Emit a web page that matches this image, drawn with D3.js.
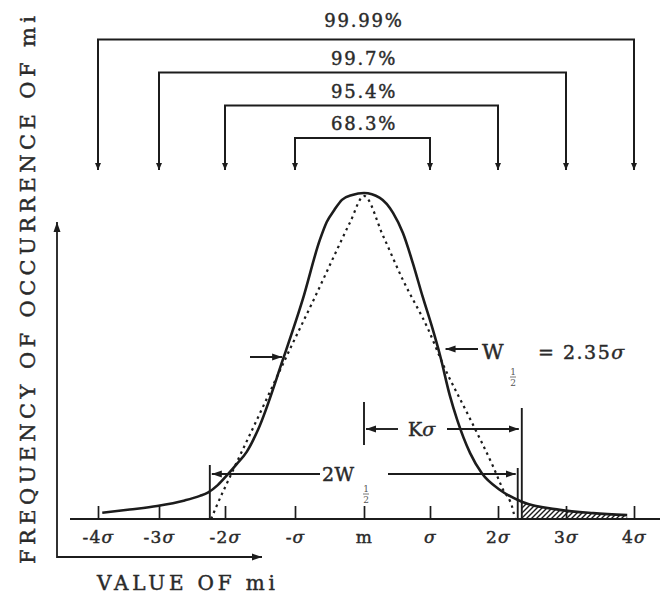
<!DOCTYPE html>
<html><head><meta charset="utf-8">
<script src="https://cdn.jsdelivr.net/npm/d3@7"></script>
<style>body{margin:0;background:#fff}svg{display:block}
text{stroke:#2a2a2a;stroke-width:0.45px;paint-order:fill}</style>
</head><body><svg id="c" width="660" height="596"></svg>
<script>
// ---- data ----
const tickValues = [-4,-3,-2,-1,0,1,2,3,4];
const tickLabels = ["-4σ","-3σ","-2σ","-σ","m","σ","2σ","3σ","4σ"];
const bracketLabels = ["99.99%","99.7%","95.4%","68.3%"];
const bracketHalfWidths = [4,3,2,1];
// solid frequency curve (x in σ, relative frequency)
const solidS = [-3.93,-3.48,-3.03,-2.61,-2.38,-2.26,-2.11,-1.98,-1.83,-1.69,-1.53,-1.17,-0.89,-0.64,-0.54,-0.43,-0.32,-0.17,0,0.24,0.44,0.59,0.74,0.89,1.03,1.15,1.29,1.40,1.59,1.76,2.03,2.35,2.91,3.40,3.90];
const solidV = [0.019,0.029,0.040,0.057,0.071,0.081,0.104,0.132,0.169,0.206,0.273,0.491,0.672,0.856,0.911,0.948,0.979,0.994,1.0,0.985,0.939,0.877,0.785,0.681,0.589,0.500,0.380,0.304,0.202,0.141,0.089,0.053,0.028,0.018,0.012];
// dotted triangle approximation
const dottedS = [-2.21,-2.14,-1.93,-1.60,-1.05,-0.71,-0.38,-0.20,0,0.29,0.59,0.97,1.19,1.59,1.93,2.07,2.22,2.25];
const dottedV = [0,0.034,0.129,0.279,0.531,0.681,0.831,0.911,0.991,0.868,0.733,0.583,0.475,0.307,0.160,0.092,0.028,0];
const halfWidthS = [-1.17, 1.17];   // W½ arrow targets (σ)
const kSigmaS = [0, 2.35];          // Kσ span (σ)
const twoWS = [-2.23, 2.29];        // 2W½ span (σ)
const tailStart = 2.35;             // hatched tail from Kσ

const FONT = "'DejaVu Serif', 'Liberation Serif', serif";
const INK = "#1c1c1c";
const TXT = "#2a2a2a";
const svg = d3.select("#c");
const x = d3.scaleLinear().domain(tickValues).range([98,159,225,295,364,430,498,566,634]);
const y = d3.scaleLinear().domain([0,1]).range([519,193]);

const defs = svg.append("defs");
defs.append("marker").attr("id","arr").attr("markerUnits","userSpaceOnUse")
  .attr("markerWidth",11).attr("markerHeight",8).attr("refX",10).attr("refY",4)
  .attr("orient","auto-start-reverse")
  .append("path").attr("d","M0,0.5 L10,4 L0,7.5 Z").attr("fill",INK);
defs.append("marker").attr("id","arrS").attr("markerUnits","userSpaceOnUse")
  .attr("markerWidth",8).attr("markerHeight",7).attr("refX",7).attr("refY",3.5)
  .attr("orient","auto-start-reverse")
  .append("path").attr("d","M0,0.5 L7,3.5 L0,6.5 Z").attr("fill",INK);
const pat = defs.append("pattern").attr("id","hatch").attr("patternUnits","userSpaceOnUse")
  .attr("width",5).attr("height",5);
pat.append("path").attr("d","M-1,1 l2,-2 M0,5 l5,-5 M4,6 l2,-2").attr("stroke",INK).attr("stroke-width",1.4);

const solid = solidS.map((s,i)=>({s, v: solidV[i]}));
const dotted = dottedS.map((s,i)=>({s, v: dottedV[i]}));

// hatched tail
const tail = solid.filter(d=>d.s>=tailStart);
svg.append("path").datum(tail)
  .attr("d", d3.area().x(d=>x(d.s)).y0(y(0)).y1(d=>y(d.v)).curve(d3.curveMonotoneX))
  .attr("fill","url(#hatch)").attr("stroke","none");

// x axis
svg.append("line").attr("x1",70).attr("x2",660).attr("y1",y(0)).attr("y2",y(0))
  .attr("stroke",INK).attr("stroke-width",2);
const ax = svg.append("g").attr("transform",`translate(0,${y(0)})`)
  .call(d3.axisBottom(x).tickValues(tickValues).tickSizeInner(-13).tickSizeOuter(0).tickPadding(26).tickFormat((d,i)=>tickLabels[i]));
ax.select(".domain").remove();
ax.selectAll(".tick line").attr("stroke",INK).attr("stroke-width",1.7);
ax.selectAll(".tick text").each(function(d,i){
  const t = d3.select(this);
  const lab = tickLabels[i];
  t.text(null).attr("font-family",FONT).attr("font-size",17).attr("fill",TXT)
   .attr("letter-spacing",1.2).attr("dy","0.35em").attr("y",18);
  for (const ch of lab) {
    t.append("tspan").text(ch).attr("font-style", ch==="σ" ? "italic" : "normal");
  }
});

// y axis L with arrows
svg.append("path").attr("d","M262,557 H57 V222").attr("fill","none")
  .attr("stroke",INK).attr("stroke-width",1.8)
  .attr("marker-start","url(#arr)").attr("marker-end","url(#arr)");

// curves
svg.append("path").datum(dotted)
  .attr("d", d3.line().x(d=>x(d.s)).y(d=>y(d.v)).curve(d3.curveMonotoneX))
  .attr("fill","none").attr("stroke",INK).attr("stroke-width",2.2)
  .attr("stroke-dasharray","2.5,4");
svg.append("path").datum(solid)
  .attr("d", d3.line().x(d=>x(d.s)).y(d=>y(d.v)).curve(d3.curveMonotoneX))
  .attr("fill","none").attr("stroke",INK).attr("stroke-width",2.6);

// brackets
const lineY = [39.5, 72.5, 105.5, 138];
const textY = [21, 58.5, 91.5, 124];
const tipY = 170;
bracketLabels.forEach((lab,i)=>{
  const w = bracketHalfWidths[i];
  svg.append("path").attr("d",`M${x(-w)},${tipY} V${lineY[i]} H${x(w)} V${tipY}`)
    .attr("fill","none").attr("stroke",INK).attr("stroke-width",2)
    .attr("marker-start","url(#arrS)").attr("marker-end","url(#arrS)");
  svg.append("text").attr("x",x(0)).attr("y",textY[i]).attr("dy","0.36em")
    .attr("text-anchor","middle").attr("font-family",FONT).attr("font-size",18)
    .attr("letter-spacing",1.8).attr("fill",TXT).text(lab);
});

function txt(str, xx, yy, size, anchor){
  return svg.append("text").attr("x",xx).attr("y",yy).attr("dy","0.36em")
    .attr("text-anchor",anchor||"start").attr("font-family",FONT)
    .attr("font-size",size).attr("fill",TXT).text(str);
}
function frac(cx, cy){
  txt("1", cx, cy-5, 9, "middle").attr("fill","#555").style("stroke","none");
  svg.append("line").attr("x1",cx-3).attr("x2",cx+3).attr("y1",cy).attr("y2",cy).attr("stroke","#555").attr("stroke-width",0.8);
  txt("2", cx, cy+6, 9, "middle").attr("fill","#555").style("stroke","none");
}
function arrow(x1,y1,x2,y2){
  svg.append("line").attr("x1",x1).attr("y1",y1).attr("x2",x2).attr("y2",y2)
    .attr("stroke",INK).attr("stroke-width",1.9).attr("marker-end","url(#arr)");
}
function bar(xx, y1, y2){
  svg.append("line").attr("x1",xx).attr("x2",xx).attr("y1",y1).attr("y2",y2)
    .attr("stroke",INK).attr("stroke-width",1.9);
}

// W½ annotation
arrow(250, 357, x(halfWidthS[0])-1, 357);
arrow(478, 349, x(halfWidthS[1])+4, 349);
txt("W", 482, 351, 21);
frac(513, 377);
txt("= 2.35", 538, 352, 19).attr("letter-spacing",1.5)
  .append("tspan").attr("font-style","italic").text("σ");

// Kσ annotation
bar(x(kSigmaS[0]), 402, 445);
arrow(398, 429, x(kSigmaS[0])+2, 429);
txt("K", 408, 429, 19).append("tspan").attr("font-style","italic").text("σ");
arrow(447, 429, x(kSigmaS[1])-3, 429);
bar(x(kSigmaS[1]), 408, y(0));

// 2W½ annotation
bar(x(twoWS[0]), 465, y(0));
arrow(320, 474, x(twoWS[0])+2, 474);
txt("2W", 322, 474, 19).attr("letter-spacing",0.5);
frac(366, 494);
arrow(388, 474, x(twoWS[1])-2, 474);
bar(x(twoWS[1]), 468, y(0));

// axis titles
txt("VALUE OF mi", 97, 583, 20).attr("textLength",178).attr("lengthAdjust","spacing");
svg.append("text").attr("transform","translate(27,290) rotate(-90)")
  .attr("dy","0.36em").attr("text-anchor","middle").attr("font-family",FONT)
  .attr("font-size",21).attr("fill",TXT)
  .attr("textLength",548).attr("lengthAdjust","spacing")
  .text("FREQUENCY OF OCCURRENCE OF mi");
</script></body></html>
